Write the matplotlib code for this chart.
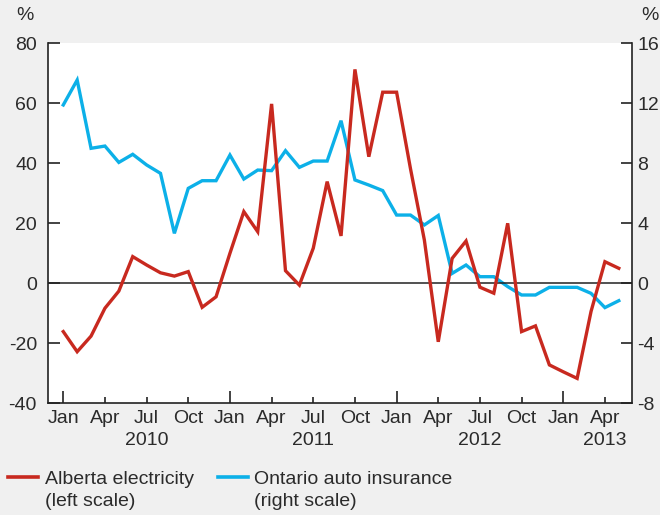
import matplotlib
matplotlib.use("Agg")
import matplotlib.pyplot as plt
from matplotlib.lines import Line2D

plt.rcParams['font.family'] = ['Liberation Sans', 'DejaVu Sans']

# ---- data (monthly, Jan 2010 - May 2013) ----
alberta = [-16.2, -22.9, -17.7, -8.4, -2.7, 8.8, 6.0, 3.4, 2.3, 3.8, -8.1, -4.6,
           9.9, 23.8, 17.1, 59.7, 4.1, -0.7, 11.6, 33.8, 15.7, 71.2, 42.1, 63.6,
           63.6, 38.1, 14.3, -19.6, 8.2, 14.0, -1.4, -3.4, 19.9, -16.2, -14.3, -27.3,
           -29.6, -31.8, -9.5, 7.1, 4.9]
ontario = [11.87, 13.53, 8.98, 9.13, 8.04, 8.58, 7.87, 7.31, 3.31, 6.31, 6.82, 6.82,
           8.53, 6.93, 7.53, 7.49, 8.82, 7.71, 8.13, 8.13, 10.82, 6.87, 6.53, 6.16,
           4.53, 4.53, 3.87, 4.50, 0.64, 1.20, 0.42, 0.42, -0.24, -0.80, -0.80, -0.29,
           -0.29, -0.29, -0.69, -1.64, -1.18]
months = list(range(len(alberta)))

jan_pos = [0, 12, 24, 36]
jan_labels = ['Jan', 'Jan', 'Jan', 'Jan']
qtr_pos = [3, 6, 9, 15, 18, 21, 27, 30, 33, 39]
qtr_labels = ['Apr', 'Jul', 'Oct', 'Apr', 'Jul', 'Oct', 'Apr', 'Jul', 'Oct', 'Apr']
year_pos = [6, 18, 30, 39]
year_labels = ['2010', '2011', '2012', '2013']

left_ticks = [-40, -20, 0, 20, 40, 60, 80]
right_ticks = [-8, -4, 0, 4, 8, 12, 16]

RED = '#c8291f'
BLUE = '#0cb0e8'
BG = '#f0f0f0'
TXT = '#2b2b2b'
AX = '#222222'
FS = 14

fig = plt.figure(figsize=(6.6, 5.15), dpi=100, facecolor=BG)
ax = fig.add_axes([48/660, 1-403/515, (632-48)/660, 360/515])
ax2 = ax.twinx()
ax.set_zorder(ax2.get_zorder() + 1)
ax.patch.set_visible(False)
ax2.patch.set_visible(True)
ax2.patch.set_facecolor('white')

ax.axhline(0, color=AX, lw=1.1, zorder=1)
ax.plot(months, alberta, color=RED, lw=2.4, solid_joinstyle='miter', zorder=3)
ax2.plot(months, ontario, color=BLUE, lw=2.4, solid_joinstyle='miter', zorder=2)

ax.set_xlim(-1.1, 40.95)
ax.set_ylim(-40, 80)
ax2.set_ylim(-8, 16)

ax.set_yticks(left_ticks)
ax.set_yticklabels([str(v) for v in left_ticks])
ax2.set_yticks(right_ticks)
ax2.set_yticklabels([str(v) for v in right_ticks])

ax.set_xticks(jan_pos, labels=jan_labels)
ax.set_xticks(qtr_pos, labels=qtr_labels, minor=True)

for a in (ax, ax2):
    a.spines['top'].set_visible(False)
    for s in ('left', 'right', 'bottom'):
        a.spines[s].set_color(AX)
        a.spines[s].set_linewidth(1.2)

ax.spines['right'].set_visible(False)
ax2.spines['left'].set_visible(False)
ax2.spines['bottom'].set_visible(False)

ax.tick_params(axis='y', direction='in', length=8.5, width=1.2, color=AX,
               labelsize=FS, labelcolor=TXT, pad=8)
ax2.tick_params(axis='y', direction='in', length=8, width=1.2, color=AX,
                labelsize=FS, labelcolor=TXT, pad=4)
ax.tick_params(axis='x', which='major', direction='in', length=8.5, width=1.2,
               color=AX, labelsize=FS, labelcolor=TXT, pad=5)
ax.tick_params(axis='x', which='minor', direction='in', length=4.5, width=1.2,
               color=AX, labelsize=FS, labelcolor=TXT, pad=5)

xt = ax.get_xaxis_transform()
for p, lab in zip(year_pos, year_labels):
    ax.text(p, -0.103, lab, transform=xt, ha='center', va='center',
            fontsize=FS, color=TXT)

fig.text(25/660, 1-16/515, '%', ha='center', va='center', fontsize=FS, color=TXT)
fig.text(650/660, 1-16/515, '%', ha='center', va='center', fontsize=FS, color=TXT)

# legend
ly1 = 1 - 479/515
ly2 = 1 - 501/515
fig.add_artist(Line2D([8/660, 38/660], [1 - 477/515, 1 - 477/515], color=RED, lw=2.6,
                      transform=fig.transFigure))
fig.text(45/660, ly1, 'Alberta electricity', ha='left', va='center',
         fontsize=FS, color=TXT)
fig.text(45/660, ly2, '(left scale)', ha='left', va='center',
         fontsize=FS, color=TXT)
fig.add_artist(Line2D([218/660, 248/660], [1 - 477/515, 1 - 477/515], color=BLUE, lw=2.6,
                      transform=fig.transFigure))
fig.text(254/660, ly1, 'Ontario auto insurance', ha='left', va='center',
         fontsize=FS, color=TXT)
fig.text(254/660, ly2, '(right scale)', ha='left', va='center',
         fontsize=FS, color=TXT)

fig.savefig('out.png', dpi=100, facecolor=BG)
